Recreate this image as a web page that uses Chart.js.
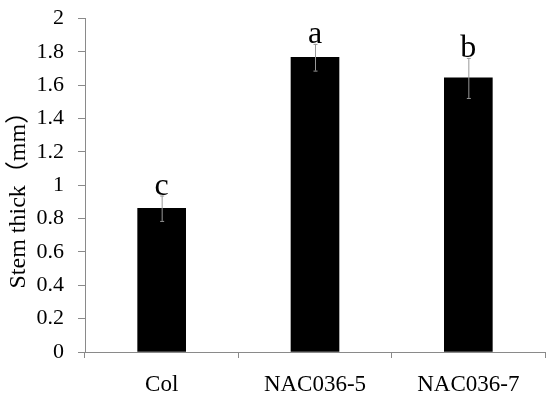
<!DOCTYPE html>
<html><head><meta charset="utf-8">
<script src="https://cdn.jsdelivr.net/npm/chart.js@4.4.1/dist/chart.umd.min.js"></script>
<style>html,body{margin:0;padding:0;background:#fff}#wrap{width:550px;height:397px}</style>
</head><body><div id="wrap"><canvas id="c" width="550" height="397"></canvas></div>
<script>
const categories = ["Col", "NAC036-5", "NAC036-7"];
const values = [0.862, 1.767, 1.643];
const errors = [0.076, 0.08, 0.12];
const letters = ["c", "a", "b"];
const yTicks = [0, 0.2, 0.4, 0.6, 0.8, 1, 1.2, 1.4, 1.6, 1.8, 2];

const serif = "'Liberation Serif', 'Times New Roman', 'Noto Sans CJK SC', serif";
const axisGrey = "#8a8a8a";

const errPlugin = {
  id: 'errLetters',
  afterDatasetsDraw(chart) {
    const ctx = chart.ctx, y = chart.scales.y;
    const meta = chart.getDatasetMeta(0);
    ctx.save();
    meta.data.forEach((bar, i) => {
      const x = bar.x;
      const top = y.getPixelForValue(values[i] + errors[i]);
      const bot = y.getPixelForValue(values[i] - errors[i]);
      ctx.strokeStyle = "#999";
      ctx.lineWidth = 1;
      ctx.beginPath();
      ctx.moveTo(x + 0.5, top); ctx.lineTo(x + 0.5, bot);
      ctx.moveTo(x - 1.5, top + 0.5); ctx.lineTo(x + 2.5, top + 0.5);
      ctx.moveTo(x - 1.5, bot + 0.5); ctx.lineTo(x + 2.5, bot + 0.5);
      ctx.stroke();
      ctx.fillStyle = "#000";
      ctx.font = "32px " + serif;
      ctx.textAlign = "center";
      ctx.textBaseline = "alphabetic";
      ctx.fillText(letters[i], x, top - 1);
    });
    ctx.restore();
  }
};

new Chart(document.getElementById('c'), {
  type: 'bar',
  data: {
    labels: categories,
    datasets: [{
      data: values,
      backgroundColor: '#000',
      borderWidth: 0,
      barThickness: 48
    }]
  },
  options: {
    responsive: false,
    animation: false,
    devicePixelRatio: 1,
    layout: { padding: { top: 14, right: 5, left: 0, bottom: 0 } },
    plugins: { legend: { display: false }, tooltip: { enabled: false } },
    scales: {
      x: {
        grid: { offset: true, drawOnChartArea: false, drawTicks: true, tickLength: 6, color: axisGrey },
        border: { color: axisGrey, width: 1 },
        ticks: { color: '#000', font: { family: serif, size: 23 }, padding: 13 },
        afterFit(s) { s.height = 45; }
      },
      y: {
        min: 0, max: 2,
        afterBuildTicks(s) { s.ticks = yTicks.map(v => ({ value: v })); },
        grid: { drawOnChartArea: false, drawTicks: true, tickLength: 7, color: axisGrey },
        border: { color: axisGrey, width: 1 },
        ticks: { color: '#000', font: { family: serif, size: 22, lineHeight: 0.4 }, padding: 14,
          callback: v => String(v) },
        title: { display: true, text: 'Stem thick（mm）   ', align: 'center', color: '#000',
          font: { family: serif, size: 24 }, padding: { top: 4, bottom: 0 } },
        afterFit(s) { s.width = 85; }
      }
    }
  },
  plugins: [errPlugin]
});
</script></body></html>
